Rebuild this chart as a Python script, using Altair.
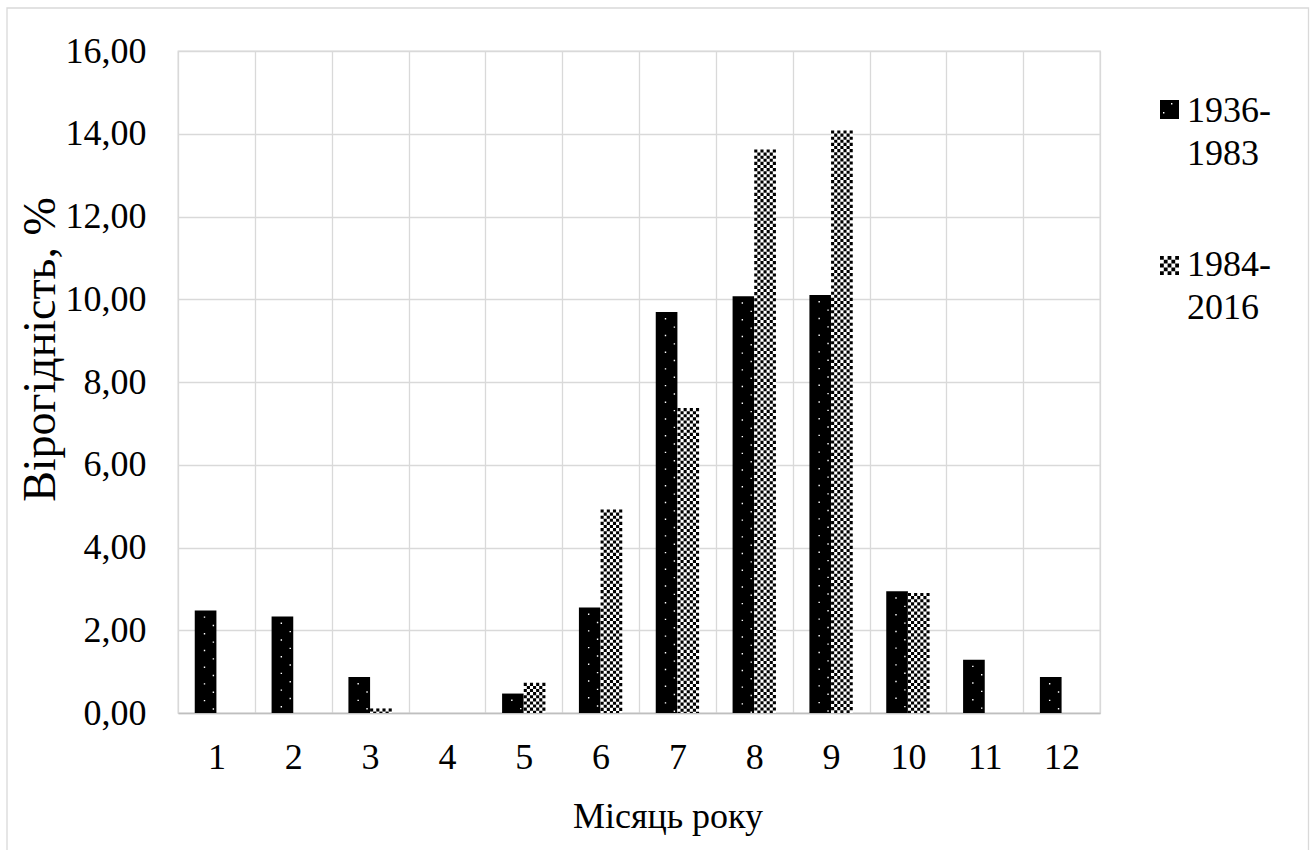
import altair as alt
import pandas as pd

# ---------------- data ----------------
months = list(range(1, 13))
series_names = ["1936-1983", "1984-2016"]
p_1936_1983 = [2.48, 2.33, 0.87, 0.00, 0.47, 2.55, 9.69, 10.07, 10.10, 2.94, 1.29, 0.87]
p_1984_2016 = [0.00, 0.00, 0.11, 0.00, 0.73, 4.92, 7.37, 13.62, 14.08, 2.90, 0.00, 0.00]
y_ticks = [0, 2, 4, 6, 8, 10, 12, 14, 16]
x_title = "Місяць року"
y_title = "Вірогідність, %"

# ---------------- style ----------------
FONT = "'Times New Roman', 'Liberation Serif', 'DejaVu Serif', serif"
GRID = "#d9d9d9"
W = 0.282            # bar width in month units
NCOL = 7             # checker columns per bar
CELL = 3.1           # checker cell size, px

df = pd.DataFrame({
    "month": months * 2,
    "series": [series_names[0]] * len(months) + [series_names[1]] * len(months),
    "value": p_1936_1983 + p_1984_2016,
})

x_vals = sorted([m - 0.5 for m in months] + [months[-1] + 0.5] + months)

XS = alt.Scale(domain=[0.5, 12.5], nice=False, zero=False)
YS = alt.Scale(domain=[0, 16], nice=False, zero=True)

X_AXIS = alt.Axis(
    values=x_vals, title=x_title, grid=True, gridColor=GRID, gridWidth=1.3,
    gridOpacity={"condition": {"test": "datum.value % 1 === 0", "value": 0}, "value": 1},
    labelExpr="datum.value % 1 === 0 ? format(datum.value, 'd') : ''",
    ticks=False, tickSize=0, labelPadding=27.6, labelFontSize=36, labelFont=FONT,
    labelColor="black", labelOverlap=False, labelFlush=False,
    domainColor="#bfbfbf", domainWidth=1.5,
    titleFont=FONT, titleFontSize=36, titleFontWeight="normal", titleColor="black",
    titleX=489.5, titleY=114, titleAlign="center", titleBaseline="alphabetic",
)
Y_AXIS = alt.Axis(
    values=y_ticks, title=y_title, grid=True, gridColor=GRID, gridWidth=1.3,
    domain=False, ticks=False, tickSize=0, labelPadding=32, labelFontSize=36,
    labelFont=FONT, labelColor="black", labelOverlap=False,
    labelExpr="replace(format(datum.value, '.2f'), '.', ',')",
    titleFont=FONT, titleFontSize=46, titleFontWeight="normal", titleColor="black",
    titleX=-124, titleY=298, titleAlign="center", titleBaseline="alphabetic", titleAngle=270,
)


def X(field):
    return alt.X(f"{field}:Q", scale=XS, axis=X_AXIS)


def Y():
    return alt.Y("value:Q", scale=YS, axis=Y_AXIS)


base = alt.Chart(df)
s1 = base.transform_filter(alt.datum.series == series_names[0])
s2 = base.transform_filter(alt.datum.series == series_names[1])

bars1 = s1.transform_calculate(
    x0=f"datum.month - {W}", x1="datum.month"
).mark_rect(color="black").encode(x=X("x0"), x2=alt.X2("x1"), y=Y(), y2=alt.datum(0))

bars2_bg = s2.transform_calculate(
    x0="datum.month", x1=f"datum.month + {W}"
).mark_rect(color="white").encode(x=X("x0"), x2=alt.X2("x1"), y=Y(), y2=alt.datum(0))

checker = s2.transform_filter("datum.value > 0").transform_calculate(
    k="[" + ",".join(str(i) for i in range(NCOL)) + "]"
).transform_flatten(["k"]).transform_calculate(
    xc=f"datum.month + (datum.k + 0.5) * {W / NCOL}"
)
chk_even = checker.transform_filter("datum.k % 2 === 0").mark_rule(
    color="black", strokeWidth=CELL, strokeDash=[CELL, CELL], strokeDashOffset=0
).encode(x=X("xc"), y=Y(), y2=alt.datum(0))
chk_odd = checker.transform_filter("datum.k % 2 === 1").mark_rule(
    color="black", strokeWidth=CELL, strokeDash=[CELL, CELL], strokeDashOffset=CELL
).encode(x=X("xc"), y=Y(), y2=alt.datum(0))

dots_src = s1.transform_filter("datum.value > 0").transform_calculate(
    xa=f"datum.month - {W} + {0.45 * W}", xb=f"datum.month - {W} + {0.86 * W}"
)
dots_a = dots_src.mark_rule(color="white", strokeWidth=1.4, strokeDash=[1.4, 15.3],
                            strokeDashOffset=-6).encode(x=X("xa"), y=Y(), y2=alt.datum(0))
dots_b = dots_src.mark_rule(color="white", strokeWidth=1.4, strokeDash=[1.4, 15.3],
                            strokeDashOffset=2.35).encode(x=X("xb"), y=Y(), y2=alt.datum(0))

# ---------------- legend (drawn by hand to show the fill patterns) ----------------
leg_df = pd.DataFrame({"label": [s.replace("-", "-\n") for s in series_names]})
SYM_X0, SYM = 982, 19
legend_layers = []
for i in range(len(series_names)):
    one = alt.Chart(leg_df.iloc[[i]])
    top = 49 + i * 156
    legend_layers.append(
        one.mark_text(align="left", baseline="alphabetic", font=FONT, fontSize=36,
                      lineBreak="\n", lineHeight=43, color="black")
        .encode(x=alt.value(1009), y=alt.value(71 + i * 154), text="label:N")
    )
    if i == 0:
        legend_layers.append(
            one.mark_rect(color="black").encode(
                x=alt.value(SYM_X0), x2=alt.value(SYM_X0 + SYM),
                y=alt.value(top), y2=alt.value(top + SYM))
        )
        for dx, dy in [(11, 3), (3, 12)]:
            legend_layers.append(
                one.mark_rect(color="white").encode(
                    x=alt.value(SYM_X0 + dx), x2=alt.value(SYM_X0 + dx + 1.4),
                    y=alt.value(top + dy), y2=alt.value(top + dy + 1.4))
            )
    else:
        c = SYM / 5
        for j in range(5):
            legend_layers.append(
                one.mark_rule(color="black", strokeWidth=c, strokeDash=[c, c],
                              strokeDashOffset=(c if j % 2 else 0)).encode(
                    x=alt.value(SYM_X0 + (j + 0.5) * c),
                    y=alt.value(top), y2=alt.value(top + SYM))
            )

frame = alt.Chart(leg_df.iloc[[0]]).mark_rect(
    fill="white", fillOpacity=0, stroke=GRID, strokeWidth=1.3
).encode(x=alt.value(-171), x2=alt.value(1130.5), y=alt.value(-43), y2=alt.value(805))

chart = alt.layer(
    frame, bars1, bars2_bg, chk_even, chk_odd, dots_a, dots_b, *legend_layers
).properties(
    width=922, height=662,
    padding={"left": 178, "top": 51, "right": 214, "bottom": 137},
    autosize=alt.AutoSizeParams(type="none"),
    background="white",
).configure_view(stroke=GRID, strokeWidth=1.3)

chart.save("out.html", embed_options={"renderer": "svg", "actions": False})
